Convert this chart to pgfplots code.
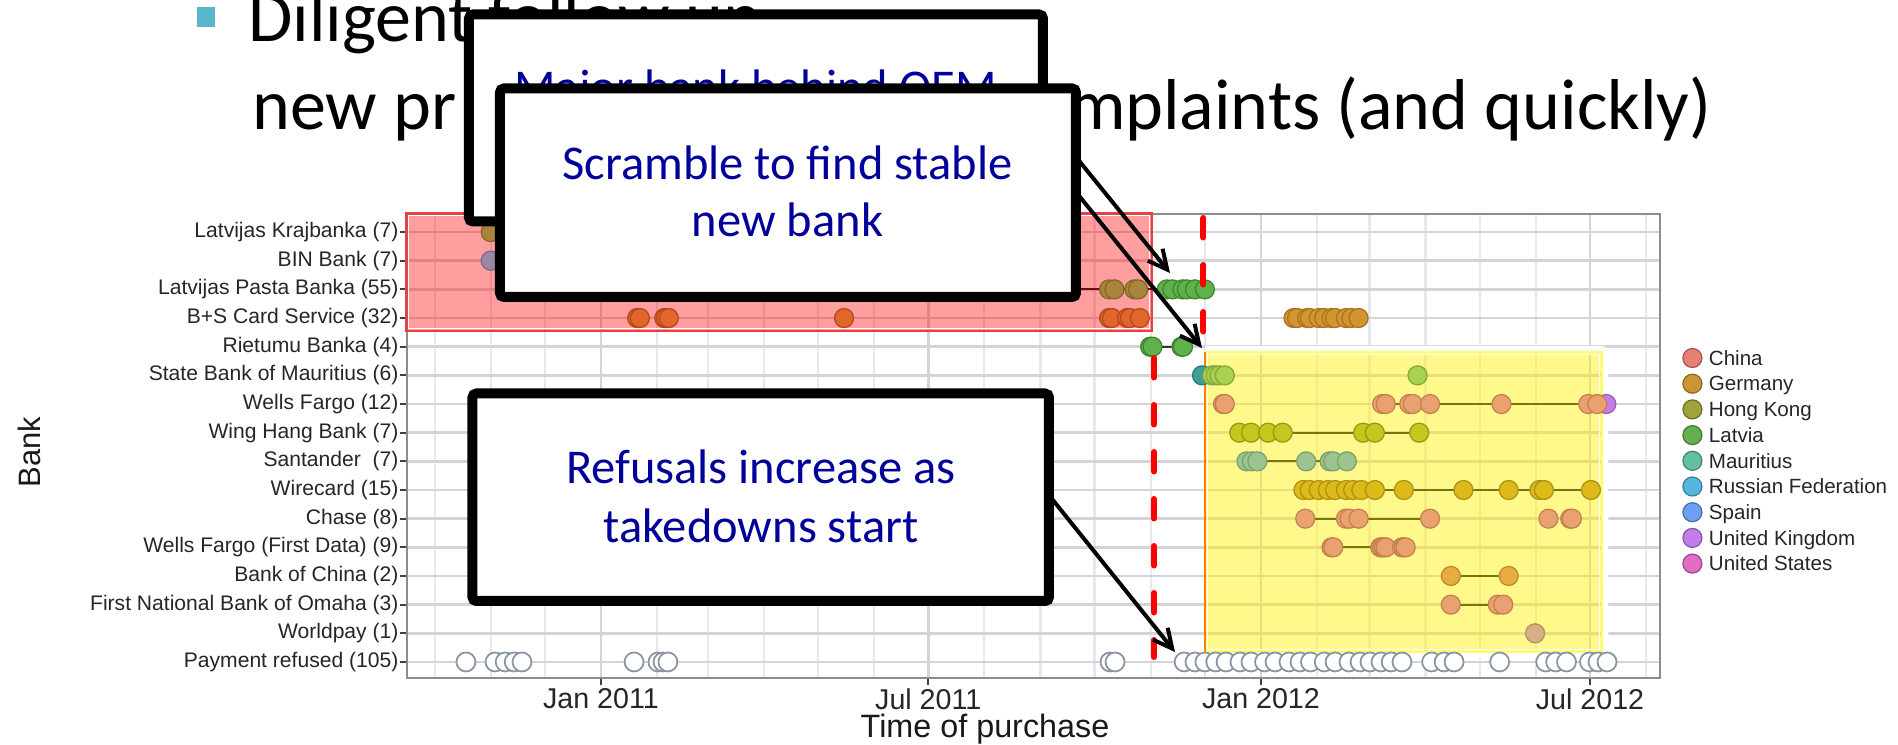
\documentclass[border=0pt]{standalone}
\usepackage{fontspec}
\setmainfont{Liberation Sans}
\newfontfamily\carlito{Carlito}
\usepackage{pgfplots}
\pgfplotsset{compat=1.18}
\usetikzlibrary{arrows.meta}

\definecolor{framec}{HTML}{8C8C8C}
\definecolor{gridmaj}{HTML}{D3D3D9}
\definecolor{gridmin}{HTML}{E8E8EC}
\definecolor{refc}{HTML}{8A94A0}
\definecolor{boxblue}{HTML}{00009A}
\definecolor{bulletc}{HTML}{5BB6CB}
\definecolor{redline}{HTML}{F03C3C}
\definecolor{yelline}{HTML}{FFFF6E}
\definecolor{orgline}{HTML}{FF8000}
\definecolor{segR}{HTML}{6A1010}
\definecolor{cPeach}{HTML}{E9A26F}\definecolor{cPeachE}{HTML}{C4804F}
\definecolor{cHK}{HTML}{C6C61E}\definecolor{cHKE}{HTML}{989812}
\definecolor{cSant}{HTML}{9DC391}\definecolor{cSantE}{HTML}{7BA070}
\definecolor{cWire}{HTML}{DDB91A}\definecolor{cWireE}{HTML}{B09010}
\definecolor{cBoC}{HTML}{E9AC3E}\definecolor{cBoCE}{HTML}{C08A28}
\definecolor{cWorld}{HTML}{D9AF86}\definecolor{cWorldE}{HTML}{B58E66}
\definecolor{cSBMy}{HTML}{A9D152}\definecolor{cSBMyE}{HTML}{84A83A}
\definecolor{cTeal}{HTML}{3E9F97}\definecolor{cTealE}{HTML}{2A7A72}
\definecolor{cLat}{HTML}{5FB14A}\definecolor{cLatE}{HTML}{3F8530}
\definecolor{cGer}{HTML}{D2952F}\definecolor{cGerE}{HTML}{A77320}
\definecolor{cLatRed}{HTML}{A9843A}\definecolor{cLatRedE}{HTML}{86652A}
\definecolor{cGerRed}{HTML}{E2652B}\definecolor{cGerRedE}{HTML}{B04A1A}
\definecolor{cRusRed}{HTML}{9C88A6}\definecolor{cRusRedE}{HTML}{7B6888}
\definecolor{cUK}{HTML}{C47FE0}\definecolor{cUKE}{HTML}{9A5FB8}
\definecolor{segY}{HTML}{767610}
\definecolor{lChina}{HTML}{E58073}
\definecolor{lGermany}{HTML}{CB9435}
\definecolor{lHK}{HTML}{A0A23A}
\definecolor{lLatvia}{HTML}{64B04F}
\definecolor{lMauritius}{HTML}{62BFA2}
\definecolor{lRussia}{HTML}{55B6E0}
\definecolor{lSpain}{HTML}{6D9FF2}
\definecolor{lUK}{HTML}{C17EEB}
\definecolor{lUS}{HTML}{E16CC6}

\pgfplotsset{
  pt/.style 2 args={forget plot, only marks, mark=*, mark size=1.9mm,
    mark options={fill=#1, draw=#2, line width=0.25mm, solid}},
  seg/.style={forget plot, no markers, line width=0.4mm, draw=#1},
  leg/.style={only marks, mark=*, mark size=1.9mm,
    mark options={fill=#1, draw=#1!70!black, line width=0.25mm}},
}

\begin{document}
\begin{tikzpicture}
\path[use as bounding box] (0,0) rectangle (379.6mm,148.8mm);

\begin{scope}[x=0.2mm,y=-0.2mm,yshift=148.8mm]
  \fill[bulletc] (197,7) rectangle (215,27);
  \node[anchor=base west, inner sep=0, font=\carlito\fontsize{41}{49}\selectfont] at (248,42) {Diligent follow up};
  \node[anchor=base west, inner sep=0, font=\carlito\fontsize{41}{49}\selectfont] at (252,130) {new pr};
  \node[anchor=base east, inner sep=0, font=\carlito\fontsize{41}{49}\selectfont] at (1712,130) {complaints (and quickly)};
\end{scope}

\begin{axis}[
  at={(81.4mm,13.2mm)}, anchor=south west,
  scale only axis, width=250.6mm, height=92.8mm,
  xmin=-107.3, xmax=585.7, ymin=0.44, ymax=16.63,
  clip=false,
  axis line style={draw=framec, line width=0.5mm},
  tick pos=left, tick align=outside,
  major tick length=1.4mm, minor tick length=0pt,
  tick style={draw=black!75, line width=0.4mm},
  xtick={0,181,365,547},
  xticklabels={Jan 2011,Jul 2011,Jan 2012,Jul 2012},
  minor xtick={-92,-61,-31,31,59,90,120,151,212,243,273,304,334,396,425,456,486,517,578},
  ytick={1,...,16},
  yticklabels={Payment refused (105),Worldpay (1),First National Bank of Omaha (3),Bank of China (2),Wells Fargo (First Data) (9),Chase (8),Wirecard (15),Santander\ \ (7),Wing Hang Bank (7),Wells Fargo (12),State Bank of Mauritius (6),Rietumu Banka (4),B+S Card Service (32),Latvijas Pasta Banka (55),BIN Bank (7),Latvijas Krajbanka (7)},
  grid=both,
  major grid style={draw=gridmaj, line width=0.55mm},
  minor grid style={draw=gridmin, line width=0.45mm},
  xticklabel style={font=\fontsize{16.3}{19}\selectfont, text=black!85, inner ysep=0.6mm, inner xsep=0pt, anchor=north},
  yticklabel style={font=\fontsize{12}{14}\selectfont, text=black!85, inner xsep=0.25mm, anchor=east},
  xlabel={Time of purchase},
  ylabel={Bank},
  xlabel style={at={(axis description cs:0.4613,0)}, anchor=base, yshift=-11.8mm, font=\fontsize{18.4}{22}\selectfont, text=black!90, inner sep=0pt},
  ylabel style={at={(axis description cs:-0.3013,0.487)}, anchor=center, font=\fontsize{17.6}{21}\selectfont, text=black!90, inner sep=0pt},
  legend style={at={(rel axis cs:1.01828,0.71175)}, anchor=north west, draw=none, fill=none,
    inner sep=0pt, outer sep=0pt, row sep=0.74mm, column sep=1.4mm,
    font=\fontsize{11.7}{14}\selectfont,
    nodes={inner sep=0pt, text height=3.5mm, text depth=0.9mm, text=black!85}},
  legend cell align=left,
  legend image code/.code={\draw[mark repeat=2,mark phase=2,#1] plot coordinates {(0mm,0.15mm) (1.9mm,0.15mm) (3.8mm,0.15mm)};},
]
\addlegendimage{leg=lChina}\addlegendentry{China}
\addlegendimage{leg=lGermany}\addlegendentry{Germany}
\addlegendimage{leg=lHK}\addlegendentry{Hong Kong}
\addlegendimage{leg=lLatvia}\addlegendentry{Latvia}
\addlegendimage{leg=lMauritius}\addlegendentry{Mauritius}
\addlegendimage{leg=lRussia}\addlegendentry{Russian Federation}
\addlegendimage{leg=lSpain}\addlegendentry{Spain}
\addlegendimage{leg=lUK}\addlegendentry{United Kingdom}
\addlegendimage{leg=lUS}\addlegendentry{United States}

\addplot[forget plot, only marks, mark=*, mark size=1.9mm, mark options={fill=white, draw=refc, line width=0.35mm}] coordinates {
 (-74.7,1) (-58.6,1) (-53,1) (-48,1) (-43.7,1) (18.3,1) (31.5,1) (34.3,1) (37,1)
 (281.5,1) (284.3,1) (322.5,1) (328.5,1) (334,1) (340,1) (345.7,1) (353.4,1) (359.5,1)
 (367,1) (372.8,1) (380.5,1) (386.6,1) (392.4,1) (400,1) (406,1) (413.7,1) (419.8,1)
 (425.3,1) (431.4,1) (437,1) (443,1) (459.4,1) (466.3,1) (471.8,1) (497,1) (522.5,1)
 (528,1) (534,1) (546.7,1) (551.4,1) (556.4,1)};
\addplot[pt={cUK}{cUKE}] coordinates {(556,10)};

\fill[red, opacity=0.38] (-107.85,12.547) rectangle (304.76,16.663);
\draw[redline, line width=0.3mm] (-107.85,12.547) rectangle (304.76,16.663);
\draw[white, line width=0.35mm] (-106.47,12.634) rectangle (303.38,16.576);

\draw[white, line width=1.3mm, rounded corners=0.8mm] (334.07,11.919) -- (555.3,11.919) -- (555.3,1.246) -- (334.07,1.246);
\fill[yellow, opacity=0.45] (334.07,1.351) rectangle (553.65,11.814);
\draw[yelline, line width=0.3mm] (334.07,1.351) rectangle (553.65,11.814);
\draw[white, line width=0.35mm] (335.45,1.438) rectangle (552.27,11.727);
\draw[orgline, line width=0.4mm] (334.07,1.351) -- (334.07,11.814);

\addplot[seg=segR] coordinates {(100,14) (304.76,14)};
\addplot[seg=black!80] coordinates {(304.76,14) (334,14)};
\addplot[seg=black!80] coordinates {(303.7,12) (321.9,12)};
\addplot[seg=segY] coordinates {(432,10) (551,10)};
\addplot[seg=segY] coordinates {(353,9) (452.5,9)};
\addplot[seg=segY] coordinates {(357,8) (412.5,8)};
\addplot[seg=segY] coordinates {(388.5,7) (547.5,7)};
\addplot[seg=segY] coordinates {(389.5,6) (458.5,6)};
\addplot[seg=segY] coordinates {(404,5) (444,5)};
\addplot[seg=segY] coordinates {(470,4) (502,4)};
\addplot[seg=segY] coordinates {(470,3) (499,3)};

\addplot[pt={cLatRed}{cLatRedE}] coordinates {(-61,16) (20,16) (60,16) (110,16) (160,16) (200,16) (235,16)};
\addplot[pt={cRusRed}{cRusRedE}] coordinates {(-61,15) (30,15) (80,15) (130,15) (180,15) (220,15) (250,15)};
\addplot[pt={cLatRed}{cLatRedE}] coordinates {(100,14) (140,14) (180,14) (210,14) (230,14) (250,14) (258,14) (281,14) (284,14) (295,14) (297,14)};
\addplot[pt={cLat}{cLatE}] coordinates {(313,14) (316,14) (321.6,14) (324,14) (328.5,14) (334,14)};
\addplot[pt={cGerRed}{cGerRedE}] coordinates {(20,13) (21.5,13) (35,13) (36,13) (37.5,13) (134.4,13) (281,13) (282.5,13) (291,13) (292.5,13) (298,13)};
\addplot[pt={cGer}{cGerE}] coordinates {(383,13) (385,13) (390.5,13) (392,13) (397,13) (400,13) (404,13) (406,13) (412,13) (415,13) (419,13)};
\addplot[pt={cLat}{cLatE}] coordinates {(303.7,12) (305,12) (321,12) (321.9,12)};
\addplot[pt={cTeal}{cTealE}] coordinates {(332.4,11)};
\addplot[pt={cSBMy}{cSBMyE}] coordinates {(338,11) (340,11) (342,11) (345,11) (451.6,11)};
\addplot[pt={cPeach}{cPeachE}] coordinates {(344,10) (345,10) (432,10) (434,10) (447,10) (449,10) (458.5,10) (498,10) (546,10) (551,10)};
\addplot[pt={cHK}{cHKE}] coordinates {(353,9) (359.5,9) (369,9) (377,9) (421.5,9) (428,9) (452.5,9)};
\addplot[pt={cSant}{cSantE}] coordinates {(357,8) (360,8) (363,8) (390,8) (403,8) (405,8) (412.5,8)};
\addplot[pt={cWire}{cWireE}] coordinates {(388.5,7) (392,7) (397,7) (402,7) (406,7) (412,7) (416,7) (420.5,7) (428,7) (444,7) (477,7) (502,7) (519,7) (521.5,7) (547.5,7)};
\addplot[pt={cPeach}{cPeachE}] coordinates {(389.5,6) (412,6) (414,6) (419,6) (458.5,6) (524,6) (536,6) (537,6)};
\addplot[pt={cPeach}{cPeachE}] coordinates {(404,5) (405,5) (431,5) (432,5) (433,5) (434,5) (443,5) (444,5) (445,5)};
\addplot[pt={cBoC}{cBoCE}] coordinates {(470,4) (502,4)};
\addplot[pt={cPeach}{cPeachE}] coordinates {(470,3) (496,3) (499,3)};
\addplot[pt={cWorld}{cWorldE}] coordinates {(516.6,2)};
\end{axis}

\begin{scope}[x=0.2mm,y=-0.2mm,yshift=148.8mm]
  \draw[red, line width=1.2mm, line cap=round, dash pattern=on 3.9mm off 5.5mm] (1203.5,218) -- (1203.5,332);
  \draw[red, line width=1.2mm, line cap=round, dash pattern=on 3.9mm off 5.5mm] (1154,358) -- (1154,657);
  \draw[line width=0.8mm, -{Straight Barb[length=3.8mm,width=3.8mm]}] (1060,137.3) -- (1170,273);
  \draw[line width=0.8mm, -{Straight Barb[length=3.8mm,width=3.8mm]}] (1060,172.2) -- (1202,348);
  \draw[line width=0.8mm, -{Straight Barb[length=3.8mm,width=3.8mm]}] (1040,484) -- (1175,652);
  \draw[line width=2mm, fill=white, rounded corners=0.8mm] (469,14.5) rectangle (1043,221.5);
  \node[anchor=base, inner sep=0, text=boxblue, font=\carlito\fontsize{27.6}{33}\selectfont] at (755.5,104) {Major bank behind OEM};
  \draw[line width=2mm, fill=white, rounded corners=0.8mm] (500,88.5) rectangle (1076,297);
  \node[anchor=base, inner sep=0, text=boxblue, font=\carlito\fontsize{27.6}{33}\selectfont] at (787.5,180) {Scramble to find stable};
  \node[anchor=base, inner sep=0, text=boxblue, font=\carlito\fontsize{27.6}{33}\selectfont] at (787.5,237) {new bank};
  \draw[line width=2mm, fill=white, rounded corners=0.8mm] (472.5,393.5) rectangle (1049,601);
  \node[anchor=base, inner sep=0, text=boxblue, font=\carlito\fontsize{27.6}{33}\selectfont] at (761,484) {Refusals increase as};
  \node[anchor=base, inner sep=0, text=boxblue, font=\carlito\fontsize{27.6}{33}\selectfont] at (761,543) {takedowns start};
\end{scope}
\end{tikzpicture}
\end{document}
